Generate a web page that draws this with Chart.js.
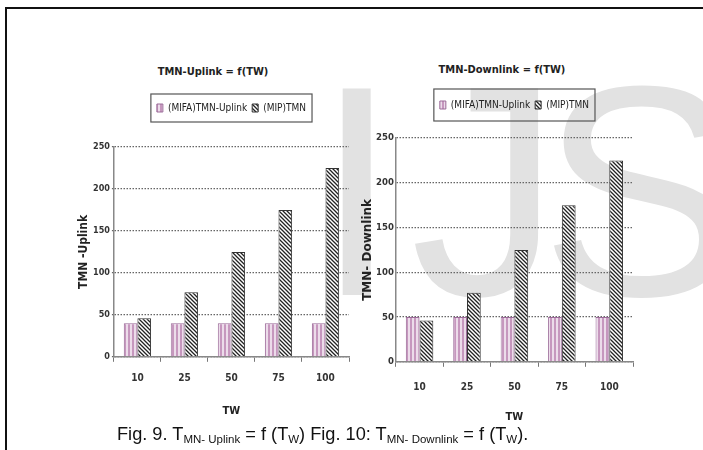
<!DOCTYPE html>
<html>
<head>
<meta charset="utf-8">
<script src="https://cdn.jsdelivr.net/npm/chart.js@4.4.1/dist/chart.umd.min.js"></script>
<style>
html, body { margin: 0; padding: 0; background: #fff; width: 703px; height: 450px; overflow: hidden; position: relative; font-family: "Liberation Sans", Arial, sans-serif; }
#frame { position: absolute; left: 5px; top: 7px; width: 740px; height: 480px; border-top: 2px solid #111; border-left: 2px solid #111; }
#mark { position: absolute; left: 315px; top: 41px; font-size: 300px; line-height: 300px; color: #e2e2e2; white-space: nowrap; }
.box { position: absolute; }
.ttl { position: absolute; font: bold 11px "DejaVu Sans Condensed", sans-serif; transform: translateX(-50%); white-space: nowrap; color: #222; }
#caption { position: absolute; left: 117px; top: 423px; font-size: 18.2px; line-height: 22px; white-space: nowrap; color: #111; }
#caption sub { font-size: 11.5px; vertical-align: -3px; line-height: 0; }
</style>
</head>
<body>
<div id="frame"></div>
<div id="mark"><span style="letter-spacing:12px">I</span><span style="letter-spacing:-20px">J</span>S</div>
<div class="ttl" style="left:213px;top:65px">TMN-Uplink = f(TW)</div>
<div class="ttl" style="left:502px;top:63px">TMN-Downlink = f(TW)</div>
<div class="box" style="left:72px;top:88px;width:285px;height:330px"><canvas id="upChart"></canvas></div>
<div class="box" style="left:358px;top:83px;width:282px;height:341px"><canvas id="downChart"></canvas></div>
<div id="caption">Fig. 9. T<sub>MN- Uplink</sub> = f (T<sub>W</sub>) Fig. 10: T<sub>MN- Downlink</sub> = f (T<sub>W</sub>).</div>

<script>
const twLabels = ['10', '25', '50', '75', '100'];

const uplinkMifa = [40, 40, 40, 40, 40];
const uplinkMip = [46, 77, 125, 175, 225];

const downlinkMifa = [50, 50, 50, 50, 50];
const downlinkMip = [46, 77, 125, 175, 225];

const yTicks = [0, 50, 100, 150, 200, 250];

const narrow = '"DejaVu Sans Condensed", sans-serif';

// vertical pink stripes for the MIFA bars
function stripePattern(){
    const c = document.createElement('canvas');
    c.width = 4; c.height = 4;
    const g = c.getContext('2d');
    g.fillStyle = '#ecdcea';
    g.fillRect(0, 0, 4, 4);
    g.fillStyle = '#c697be';
    g.fillRect(0, 0, 2, 4);
    return g.createPattern(c, 'repeat');
}

// black "\" hatching for the MIP bars
function hatchPattern(){
    const c = document.createElement('canvas');
    c.width = 4; c.height = 4;
    const g = c.getContext('2d');
    g.fillStyle = '#fff';
    g.fillRect(0, 0, 4, 4);
    g.strokeStyle = '#222';
    g.lineWidth = 1.3;
    g.beginPath();
    g.moveTo(-1, -1); g.lineTo(5, 5);
    g.moveTo(-1, 3); g.lineTo(1, 5);
    g.moveTo(3, -1); g.lineTo(5, 1);
    g.stroke();
    return g.createPattern(c, 'repeat');
}

// frame round the legend items, plus extra room under the legend
const legendFrame = {
    id: 'legendFrame',
    beforeLayout(chart, args, opts){
        const lg = chart.legend;
        if(lg && !lg._spaced){
            const fit = lg.fit;
            lg.fit = function(){
                fit.call(this);
                this.height += opts.extra || 0;
            };
            lg._spaced = true;
        }
    },
    afterDraw(chart, args, opts){
        const boxes = chart.legend.legendHitBoxes;
        if(!boxes || !boxes.length) return;
        let l = Infinity, t = Infinity, r = -Infinity, b = -Infinity;
        for(let h of boxes){
            l = Math.min(l, h.left); t = Math.min(t, h.top);
            r = Math.max(r, h.left + h.width); b = Math.max(b, h.top + h.height);
        }
        const ctx = chart.ctx;
        const p = opts.pad || 8;
        ctx.save();
        ctx.strokeStyle = '#555';
        ctx.lineWidth = 1.2;
        ctx.strokeRect(l - 6, t - p, r - l + 12, b - t + 2 * p);
        ctx.restore();
    }
};

function makeChart(canvas, mifa, mip, yTitle, opts){
    return new Chart(canvas, {
        type: 'bar',
        data: {
            labels: twLabels,
            datasets: [
                {
                    label: '(MIFA)TMN-Uplink',
                    data: mifa,
                    backgroundColor: stripePattern(),
                    borderColor: '#9a6a98',
                    borderWidth: 1
                },
                {
                    label: '(MIP)TMN',
                    data: mip,
                    backgroundColor: hatchPattern(),
                    borderColor: '#333',
                    borderWidth: 1
                }
            ]
        },
        options: {
            responsive: true,
            maintainAspectRatio: false,
            animation: false,
            layout: { padding: opts.padding },
            datasets: {
                bar: { barPercentage: 1, categoryPercentage: 0.58 }
            },
            plugins: {
                legend: {
                    position: 'top',
                    fullSize: false,
                    labels: {
                        font: { family: narrow, size: 10 },
                        color: '#222',
                        boxWidth: 6,
                        boxHeight: 8,
                        padding: 5
                    }
                },
                legendFrame: { extra: opts.legendExtra, pad: opts.legendPad },
                tooltip: { enabled: false }
            },
            scales: {
                x: {
                    grid: { display: true, drawOnChartArea: false, drawTicks: true, tickLength: 5, color: '#777' },
                    border: { color: '#888', width: 1.5 },
                    ticks: { font: { family: narrow, size: 10, weight: 'bold' }, color: '#333', padding: opts.xPad },
                    title: { display: true, text: 'TW', font: { family: narrow, size: 11, weight: 'bold' }, color: '#222', padding: { top: opts.twPad, bottom: 0 } }
                },
                y: {
                    min: 0,
                    max: 250,
                    afterBuildTicks(axis){ axis.ticks = yTicks.map(v => ({ value: v })); },
                    grid: { color: '#666', lineWidth: 1.3, drawTicks: opts.yTickLen > 0, tickLength: opts.yTickLen },
                    border: { color: '#888', width: 1.5, dash: [1.5, 1.5] },
                    ticks: { font: { family: narrow, size: opts.yTickSize, weight: 'bold' }, color: '#333', padding: opts.yPad },
                    title: { display: true, text: yTitle, font: opts.yTitleFont, color: '#222', padding: { top: 0, bottom: opts.yTitlePad } }
                }
            }
        },
        plugins: [legendFrame]
    });
}

makeChart(document.getElementById('upChart'), uplinkMifa, uplinkMip, 'TMN -Uplink', {
    padding: { left: 6, right: 8, top: 10, bottom: 0 },
    legendExtra: 24, legendPad: 9,
    xPad: 11, twPad: 9,
    yTickSize: 9, yPad: 2, yTickLen: 2, yTitlePad: 1,
    yTitleFont: { family: narrow, size: 12, weight: 'bold', lineHeight: 1 }
});

makeChart(document.getElementById('downChart'), downlinkMifa, downlinkMip, 'TMN- Downlink', {
    padding: { left: 4, right: 7, top: 12, bottom: 0 },
    legendExtra: 18, legendPad: 11,
    xPad: 15, twPad: 2,
    yTickSize: 9.5, yPad: 2, yTickLen: 0, yTitlePad: 0,
    yTitleFont: { family: '"DejaVu Sans", sans-serif', size: 12, weight: 'bold', lineHeight: 1 }
});
</script>
</body>
</html>
